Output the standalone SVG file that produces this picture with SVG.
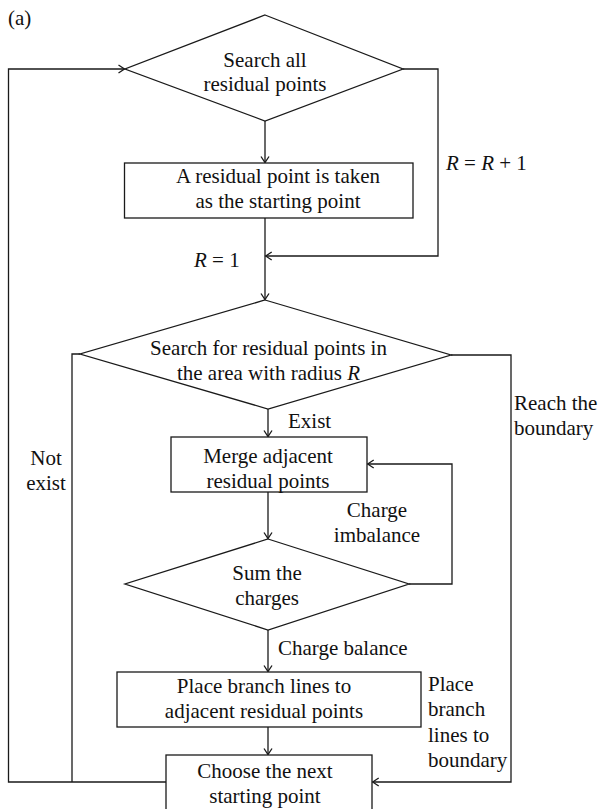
<svg xmlns="http://www.w3.org/2000/svg" width="600" height="809" viewBox="0 0 600 809">
<defs>
<marker id="arr" markerUnits="userSpaceOnUse" markerWidth="12" markerHeight="12" viewBox="-8 -6 10 12" refX="0" refY="0" orient="auto">
<path d="M-6,-4 L0,0 L-6,4" fill="none" stroke="#1a1a1a" stroke-width="1.3"/>
</marker>
</defs>
<style>
.s{fill:#fff;stroke:#1a1a1a;stroke-width:1.3}
.c{fill:none;stroke:#1a1a1a;stroke-width:1.3}
.a{marker-end:url(#arr)}
text{font-family:'Liberation Serif','Tinos','DejaVu Serif',serif;font-size:21px;fill:#111}
.m{text-anchor:middle}
.i{font-style:italic}
</style>
<rect width="600" height="809" fill="#fff"/>
<text x="8" y="25">(a)</text>
<g id="connectors">
<path class="c a" d="M265,121 V162.5"/>
<path class="c a" d="M265,218 V299.5"/>
<path class="c a" d="M268,409 V436.5"/>
<path class="c a" d="M268,492 V538.5"/>
<path class="c a" d="M268,630 V671.5"/>
<path class="c a" d="M268,727 V754.5"/>
<path class="c a" d="M403,69 H438 V256 H265.7"/>
<path class="c a" d="M409,584 H452 V464 H367.7"/>
<path class="c a" d="M451,355 H511 V782 H372.7"/>
<path class="c" d="M80,354 H72 V782"/>
<path class="c a" d="M166,782 H8.5 V69 H124.5"/>
<text x="446" y="170"><tspan class="i">R</tspan> = <tspan class="i">R</tspan> + 1</text>
<text x="194" y="267"><tspan class="i">R</tspan> = 1</text>
<text x="288" y="428">Exist</text>
<text x="46" y="465" class="m">Not</text>
<text x="46" y="490" class="m">exist</text>
<text x="514" y="410">Reach the</text>
<text x="514" y="435">boundary</text>
<text x="377" y="517" class="m">Charge</text>
<text x="377" y="542" class="m">imbalance</text>
<text x="278" y="655">Charge balance</text>
<text x="428" y="691">Place</text>
<text x="428" y="716">branch</text>
<text x="428" y="742">lines to</text>
<text x="428" y="767">boundary</text>
</g>
<g id="n1">
<polygon class="s" points="265,15 403,69 265,121 125,69"/>
<text x="265" y="66.5" class="m">Search all</text>
<text x="265" y="91" class="m">residual points</text>
</g>
<g id="n2">
<rect class="s" x="124.5" y="163" width="288.5" height="55"/>
<text x="278" y="183" class="m">A residual point is taken</text>
<text x="278" y="208" class="m">as the starting point</text>
</g>
<g id="n3">
<polygon class="s" points="265,300 451,355 268,409 80,354"/>
<text x="268.5" y="355" class="m">Search for residual points in</text>
<text x="268.5" y="380" class="m">the area with radius <tspan class="i">R</tspan></text>
</g>
<g id="n4">
<rect class="s" x="171" y="437" width="196" height="55"/>
<text x="268" y="463" class="m">Merge adjacent</text>
<text x="268" y="488" class="m">residual points</text>
</g>
<g id="n5">
<polygon class="s" points="268,539 409,584 268,630 125,584"/>
<text x="267" y="580" class="m">Sum the</text>
<text x="267" y="605" class="m">charges</text>
</g>
<g id="n6">
<rect class="s" x="117" y="672" width="304" height="55"/>
<text x="264" y="693" class="m">Place branch lines to</text>
<text x="264" y="718" class="m">adjacent residual points</text>
</g>
<g id="n7">
<rect class="s" x="166" y="755" width="206" height="70"/>
<text x="265" y="778" class="m">Choose the next</text>
<text x="265" y="803" class="m">starting point</text>
</g>
</svg>
